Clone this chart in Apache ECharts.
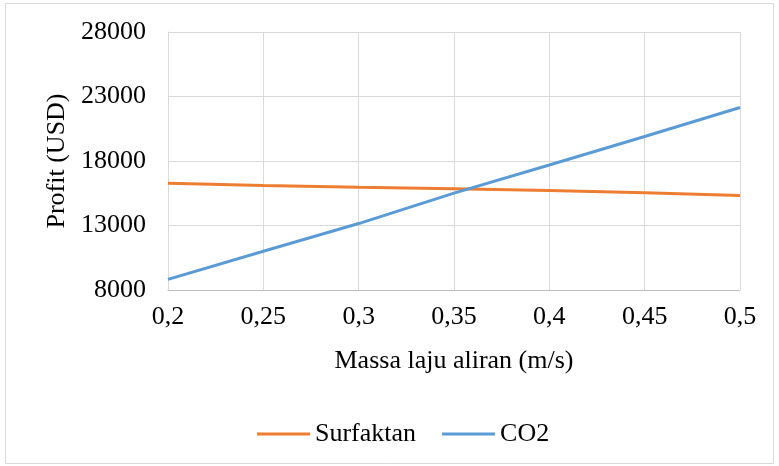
<!DOCTYPE html>
<html>
<head>
<meta charset="utf-8">
<script src="https://cdn.jsdelivr.net/npm/echarts@6/dist/echarts.min.js"></script>
<style>
  html, body { margin: 0; padding: 0; background: #fff; }
  #chart { width: 779px; height: 466px; }
</style>
</head>
<body>
<div id="chart"></div>
<script>
  // data
  const xValues = [0.2, 0.25, 0.3, 0.35, 0.4, 0.45, 0.5];
  const surfaktan = [16280, 16100, 15970, 15850, 15720, 15540, 15330];
  const co2 = [8820, 11000, 13150, 15510, 17690, 19900, 22150];
  const yTicks = [8000, 13000, 18000, 23000, 28000];

  const FONT = '"Liberation Serif", "DejaVu Serif", serif';

  const toPairs = (ys) => xValues.map((x, i) => [x, ys[i]]);

  const chart = echarts.init(document.getElementById('chart'), null, { renderer: 'canvas' });

  const option = {
    animation: false,
    textStyle: { fontFamily: FONT },
    graphic: [
      {
        type: 'rect',
        shape: { x: 5.5, y: 3.5, width: 768, height: 460 },
        style: { fill: 'none', stroke: '#d9d9d9', lineWidth: 1 },
        silent: true
      }
    ],
    grid: { left: 168, right: 39, top: 32, bottom: 176 },
    legend: {
      bottom: 14,
      left: 252,
      icon: 'rect',
      itemWidth: 53,
      itemHeight: 3,
      itemGap: 26,
      textStyle: { fontFamily: FONT, fontSize: 26, color: '#000' },
      data: ['Surfaktan', 'CO2']
    },
    xAxis: {
      type: 'value',
      min: 0.2,
      max: 0.5,
      interval: 0.05,
      name: 'Massa laju aliran (m/s)',
      nameLocation: 'middle',
      nameGap: 58,
      nameTextStyle: { fontFamily: FONT, fontSize: 26, color: '#000' },
      axisLine: { show: true, lineStyle: { color: '#bfbfbf', width: 1 } },
      axisTick: { show: false },
      axisLabel: {
        margin: 14,
        fontFamily: FONT,
        fontSize: 26,
        color: '#000',
        formatter: (v) => String(Math.round(v * 100) / 100).replace('.', ',')
      },
      splitLine: { show: true, lineStyle: { color: '#d9d9d9', width: 1 } }
    },
    yAxis: {
      type: 'value',
      min: yTicks[0],
      max: yTicks[yTicks.length - 1],
      interval: 5000,
      name: 'Profit (USD)',
      nameLocation: 'middle',
      nameGap: 96,
      nameRotate: 90,
      nameTextStyle: { fontFamily: FONT, fontSize: 26, color: '#000' },
      axisLine: { show: true, lineStyle: { color: '#d9d9d9', width: 1 } },
      axisTick: { show: false },
      axisLabel: {
        margin: 22,
        fontFamily: FONT,
        fontSize: 26,
        color: '#000',
        formatter: (v) => String(v)
      },
      splitLine: { show: true, lineStyle: { color: '#d9d9d9', width: 1 } }
    },
    series: [
      {
        name: 'Surfaktan',
        type: 'line',
        data: toPairs(surfaktan),
        symbol: 'none',
        lineStyle: { color: '#ED7D31', width: 3 },
        itemStyle: { color: '#ED7D31' }
      },
      {
        name: 'CO2',
        type: 'line',
        data: toPairs(co2),
        symbol: 'none',
        lineStyle: { color: '#5B9BD5', width: 3 },
        itemStyle: { color: '#5B9BD5' }
      }
    ]
  };

  chart.setOption(option);
</script>
</body>
</html>
